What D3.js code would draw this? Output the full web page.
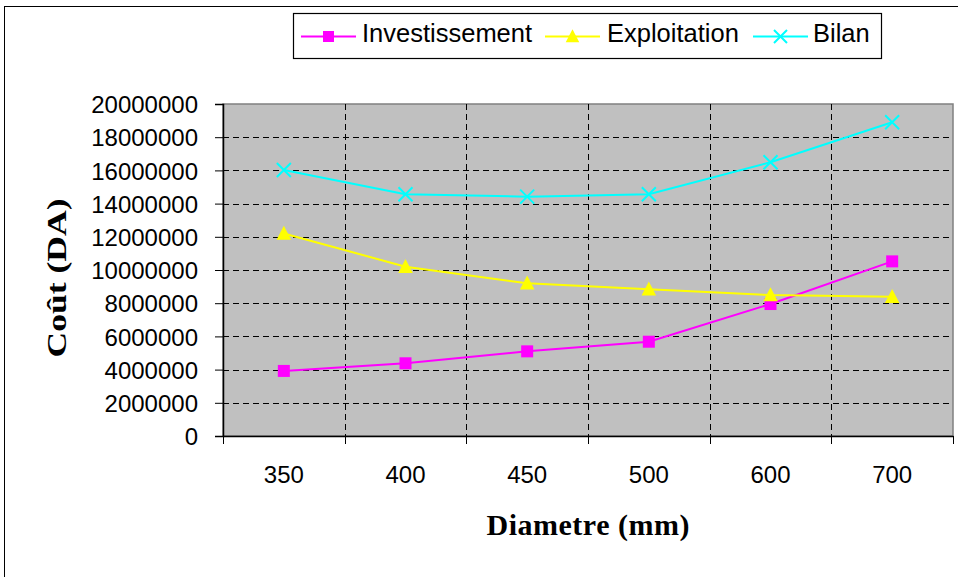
<!DOCTYPE html>
<html><head><meta charset="utf-8">
<script src="https://cdn.jsdelivr.net/npm/d3@7"></script>
<style>body{margin:0;background:#fff}svg{display:block}</style>
</head><body>
<svg id="c" width="958" height="577"></svg>
<script>
const categories = ["350","400","450","500","600","700"];
const investissement = [3920000, 4380000, 5100000, 5680000, 7950000, 10520000];
const exploitation = [12200000, 10200000, 9200000, 8840000, 8490000, 8390000];
const bilan = [16020000, 14560000, 14420000, 14560000, 16490000, 18900000];
const yTicks = [0,2000000,4000000,6000000,8000000,10000000,12000000,14000000,16000000,18000000,20000000];
const seriesNames = ["Investissement","Exploitation","Bilan"];

const svg = d3.select("#c");
const L = 223, R = 953, T = 104, B = 436;
const x = d3.scaleBand().domain(categories).range([L, R]);
const y = d3.scaleLinear().domain([0, 20000000]).range([B, T]);

// outer frame
svg.append("rect").attr("x",4.5).attr("y",6.5).attr("width",1000).attr("height",1000)
  .attr("fill","none").attr("stroke","#000").attr("stroke-width",1);

// plot area
svg.append("rect").attr("x",L).attr("y",T).attr("width",R-L).attr("height",B-T)
  .attr("fill","#c0c0c0").attr("stroke","#808080").attr("stroke-width",1.5);

// horizontal grid
svg.append("g").selectAll("line").data(yTicks.filter(d=>d>0 && d<20000000)).join("line")
  .attr("x1",L).attr("x2",R).attr("y1",d=>Math.round(y(d))+0.5).attr("y2",d=>Math.round(y(d))+0.5)
  .attr("stroke","#000").attr("stroke-width",1).attr("stroke-dasharray","6,4");
// vertical grid at category boundaries
const bounds = categories.slice(1).map(c=>x(c));
svg.append("g").selectAll("line").data(bounds).join("line")
  .attr("x1",d=>Math.round(d)+0.5).attr("x2",d=>Math.round(d)+0.5).attr("y1",T).attr("y2",B)
  .attr("stroke","#000").attr("stroke-width",1).attr("stroke-dasharray","6,4");

// y axis
const yAxis = d3.axisLeft(y).tickValues(yTicks).tickSize(8).tickPadding(17).tickFormat(d3.format("d"));
const gy = svg.append("g").attr("transform",`translate(${L},0)`).call(yAxis);
gy.select(".domain").attr("stroke","#000").attr("stroke-width",1.5);
gy.selectAll(".tick line").attr("stroke","#000");
gy.selectAll("text").attr("font-family","'Liberation Sans', Arial, sans-serif").attr("font-size","24px").attr("fill","#000").attr("dy","0.36em");

// x axis
const xAxis = d3.axisBottom(x).tickSize(0).tickPadding(47);
const gx = svg.append("g").attr("transform",`translate(0,${B})`).call(xAxis);
gx.select(".domain").attr("stroke","#000").attr("stroke-width",1.5);
gx.selectAll("text").attr("font-family","'Liberation Sans', Arial, sans-serif").attr("font-size","24px").attr("fill","#000").attr("dy","0");
// category boundary ticks
svg.append("g").selectAll("line").data([L, ...bounds, R]).join("line")
  .attr("x1",d=>Math.round(d)+0.5).attr("x2",d=>Math.round(d)+0.5).attr("y1",B).attr("y2",B+8)
  .attr("stroke","#000").attr("stroke-width",1);

// titles
svg.append("text").attr("x",588).attr("y",535).attr("text-anchor","middle")
  .attr("font-family","'Liberation Serif', 'Times New Roman', serif").attr("font-weight","bold").attr("font-size","30px")
  .attr("textLength",203).attr("lengthAdjust","spacing").text("Diametre (mm)");
svg.append("text").attr("transform","translate(66,278) rotate(-90) scale(1.27,1)").attr("text-anchor","middle")
  .attr("font-family","'Liberation Serif', 'Times New Roman', serif").attr("font-weight","bold").attr("font-size","28px")
  .text("Coût (DA)");

// series
const series = [
  {name: seriesNames[0], values: investissement, color:"#ff00ff", marker:"square", size:12},
  {name: seriesNames[1], values: exploitation, color:"#ffff00", marker:"triangle", size:14},
  {name: seriesNames[2], values: bilan, color:"#00ffff", marker:"x", size:14}
];
const cx = c => x(c) + x.bandwidth()/2;
const line = d3.line().x((d,i)=>cx(categories[i])).y(d=>y(d));

function drawMarker(g, type, px, py, color, s) {
  if (type === "square") {
    g.append("rect").attr("x",px-s/2).attr("y",py-s/2).attr("width",s).attr("height",s).attr("fill",color);
  } else if (type === "triangle") {
    g.append("path").attr("d",`M${px},${py-s*0.55}L${px+s*0.52},${py+s*0.45}L${px-s*0.52},${py+s*0.45}Z`).attr("fill",color);
  } else {
    const h = s/2;
    g.append("path").attr("d",`M${px-h},${py-h}L${px+h},${py+h}M${px-h},${py+h}L${px+h},${py-h}`)
      .attr("stroke",color).attr("stroke-width",2).attr("fill","none");
  }
}

series.forEach(s => {
  svg.append("path").datum(s.values).attr("d",line).attr("fill","none").attr("stroke",s.color).attr("stroke-width",2);
  const g = svg.append("g");
  s.values.forEach((v,i)=> drawMarker(g, s.marker, cx(categories[i]), y(v), s.color, s.size));
});

// legend
svg.append("rect").attr("x",293.5).attr("y",13.5).attr("width",588).attr("height",45)
  .attr("fill","#fff").attr("stroke","#000").attr("stroke-width",1.2);
const legendItems = [
  {x1:301, x2:356, tx:362, s:series[0]},
  {x1:545, x2:600, tx:607, s:series[1]},
  {x1:753, x2:808, tx:813, s:series[2]}
];
const ly = 36.5;
legendItems.forEach(it => {
  const g = svg.append("g");
  g.append("line").attr("x1",it.x1).attr("x2",it.x2).attr("y1",ly).attr("y2",ly).attr("stroke",it.s.color).attr("stroke-width",2);
  drawMarker(g, it.s.marker, (it.x1+it.x2)/2, ly, it.s.color, it.s.size - 1);
  g.append("text").attr("x",it.tx).attr("y",41.7).attr("font-family","'Liberation Sans', Arial, sans-serif")
    .attr("font-size","25.5px").attr("fill","#000").text(it.s.name);
});
</script>
</body></html>
